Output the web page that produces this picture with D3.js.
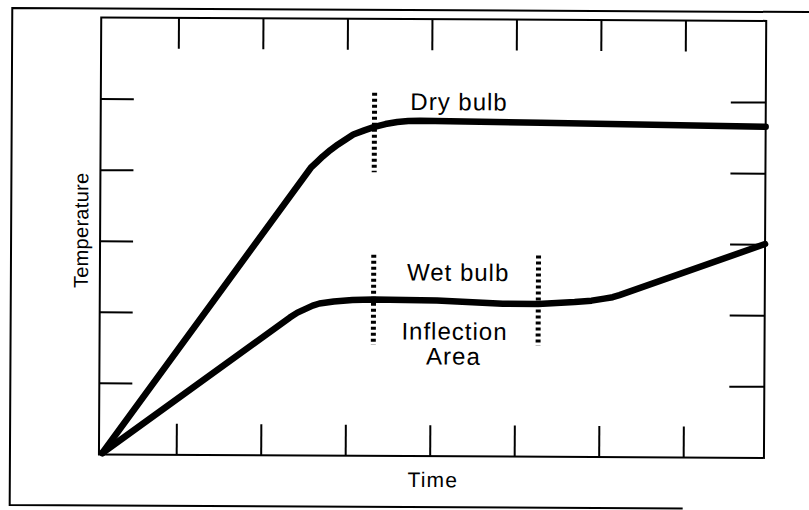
<!DOCTYPE html>
<html>
<head>
<meta charset="utf-8">
<script src="https://cdn.jsdelivr.net/npm/d3@7/dist/d3.min.js"></script>
<style>
  html, body { margin: 0; padding: 0; background: #fff; }
  svg { display: block; }
  text { font-family: "Liberation Sans", Arial, Helvetica, sans-serif; fill: #000; }
</style>
</head>
<body>
<script>
// Time / temperature tick positions (unlabelled)
const timeTicks = [1, 2, 3, 4, 5, 6, 7];
const tempTicks = [1, 2, 3, 4, 5];

// Dry bulb temperature curve
const dryTime = [0.12, 2.57, 2.64, 2.71, 2.80, 2.89, 2.98, 3.07, 3.20, 3.32, 3.45, 3.59, 3.72, 3.86, 5.29, 7.95];
const dryTemp = [0.02, 4.05, 4.13, 4.21, 4.30, 4.38, 4.45, 4.52, 4.58, 4.63, 4.67, 4.70, 4.715, 4.72, 4.70, 4.66];

// Wet bulb temperature curve
const wetTime = [0.12, 2.33, 2.42, 2.51, 2.60, 2.68, 2.85, 3.07, 3.32, 4.07, 4.85, 5.27, 5.70, 5.90, 6.05, 6.15, 6.23, 7.95];
const wetTemp = [0.02, 1.94, 2.01, 2.06, 2.11, 2.14, 2.17, 2.19, 2.20, 2.19, 2.15, 2.15, 2.18, 2.20, 2.23, 2.25, 2.28, 3.01];

// Dotted markers bounding the inflection area: [time, tempFrom, tempTo]
const markerTime = [3.32, 3.32, 5.27];
const markerFrom = [3.99, 1.56, 1.56];
const markerTo   = [5.11, 2.83, 2.83];

// Curve labels
const labelText = ["Dry bulb", "Wet bulb", "Inflection", "Area"];
const labelTime = [4.32, 4.32, 4.28, 4.27];
const labelTemp = [4.87, 2.47, 1.64, 1.29];

const W = 809, H = 510;
const svg = d3.select("body").append("svg").attr("width", W).attr("height", H);
const root = svg.append("g").attr("transform", "rotate(0.3, 405, 255)");

const x = d3.scaleLinear().domain([0.08, 7.95]).range([100, 765]);
const y = d3.scaleLinear().domain([0, 6.15]).range([456, 19]);

// outer frame (open on the right)
const frame = root.append("g").attr("stroke", "#000").attr("stroke-width", 2).attr("fill", "none");
frame.append("path").attr("d", "M809,10 L11,10 L11,507 L684,507");

// plot box
root.append("rect")
  .attr("x", x.range()[0]).attr("y", y.range()[1])
  .attr("width", x.range()[1] - x.range()[0])
  .attr("height", y.range()[0] - y.range()[1])
  .attr("fill", "none").attr("stroke", "#000").attr("stroke-width", 2);

// inward ticks on all four sides
const tickG = root.append("g").attr("stroke", "#000").attr("stroke-width", 2);
tickG.selectAll("line.top").data(timeTicks).join("line")
  .attr("x1", d => x(d)).attr("x2", d => x(d))
  .attr("y1", y.range()[1]).attr("y2", y.range()[1] + 31);
tickG.selectAll("line.bottom").data(timeTicks).join("line")
  .attr("x1", d => x(d)).attr("x2", d => x(d))
  .attr("y1", y.range()[0]).attr("y2", y.range()[0] - 31);
tickG.selectAll("line.left").data(tempTicks).join("line")
  .attr("y1", d => y(d)).attr("y2", d => y(d))
  .attr("x1", x.range()[0]).attr("x2", x.range()[0] + 33);
tickG.selectAll("line.right").data(tempTicks).join("line")
  .attr("y1", d => y(d)).attr("y2", d => y(d))
  .attr("x1", x.range()[1]).attr("x2", x.range()[1] - 35);

// temperature curves
const line = d3.line().x(d => x(d[0])).y(d => y(d[1])).curve(d3.curveLinear);
const curves = [d3.zip(dryTime, dryTemp), d3.zip(wetTime, wetTemp)];
root.selectAll("path.curve").data(curves).join("path")
  .attr("class", "curve")
  .attr("d", line)
  .attr("fill", "none").attr("stroke", "#000")
  .attr("stroke-width", 6.5).attr("stroke-linecap", "round").attr("stroke-linejoin", "round");

// dotted markers
root.selectAll("line.marker").data(d3.range(markerTime.length)).join("line")
  .attr("class", "marker")
  .attr("x1", i => x(markerTime[i])).attr("x2", i => x(markerTime[i]))
  .attr("y1", i => y(markerTo[i])).attr("y2", i => y(markerFrom[i]))
  .attr("stroke", "#000").attr("stroke-width", 5).attr("stroke-dasharray", "3,3");

// labels
root.selectAll("text.label").data(d3.range(labelText.length)).join("text")
  .attr("class", "label")
  .attr("x", i => x(labelTime[i])).attr("y", i => y(labelTemp[i]))
  .attr("text-anchor", "middle")
  .attr("font-size", 24).attr("letter-spacing", 1)
  .text(i => labelText[i]);

// axis titles
root.append("text")
  .attr("x", 434).attr("y", 487)
  .attr("text-anchor", "middle").attr("font-size", 21).attr("letter-spacing", 1.2)
  .text("Time");
root.append("text")
  .attr("transform", "translate(88,232) rotate(-90)")
  .attr("text-anchor", "middle").attr("font-size", 20).attr("letter-spacing", 0.3)
  .text("Temperature");
</script>
</body>
</html>
